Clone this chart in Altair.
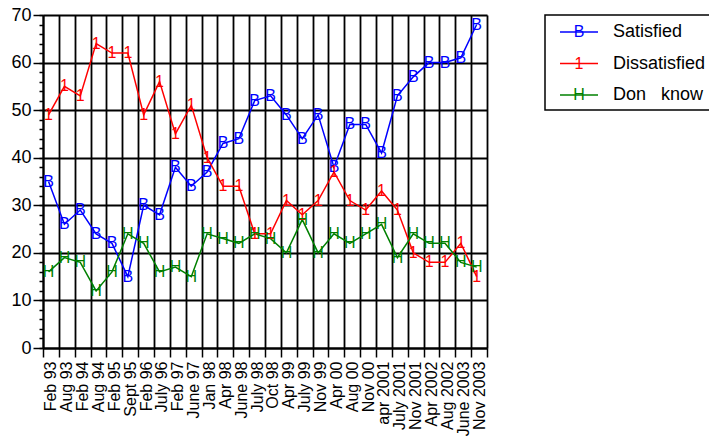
import altair as alt
import pandas as pd

categories = ["Feb 93", "Aug 93", "Feb 94", "Aug 94", "Feb 95", "Sept 95", "Feb 96",
              "July 96", "Feb 97", "June 97", "Jan 98", "Apr 98", "June 98", "July 98",
              "Oct 98", "Apr 99", "July 99", "Nov 99", "Apr 00", "Aug 00", "Nov 00",
              "apr 2001", "July 2001", "Nov 2001", "Apr 2002", "Aug 2002", "June 2003",
              "Nov 2003"]

satisfied = [35, 26, 29, 24, 22, 15, 30, 28, 38, 34, 37, 43, 44, 52, 53, 49, 44, 49,
             38, 47, 47, 41, 53, 57, 60, 60, 61, 68]
dissatisfied = [49, 55, 53, 64, 62, 62, 49, 56, 45, 51, 40, 34, 34, 24, 24, 31, 28, 31,
                37, 31, 29, 33, 29, 20, 18, 18, 22, 15]
dont_know = [16, 19, 18, 12, 16, 24, 22, 16, 17, 15, 24, 23, 22, 24, 23, 20, 27, 20,
             24, 22, 24, 26, 19, 24, 22, 22, 18, 17]

series_names = ["Satisfied", "Dissatisfied", "Don know"]
series_labels = ["Satisfied", "Dissatisfied", "Don\u00a0\u00a0\u00a0know"]
series_markers = ["B", "1", "H"]
series_colors = ["#0000ff", "#ff0000", "#008000"]
y_ticks = list(range(0, 71, 10))
y_minor = list(range(0, 71, 2))

rows = []
for name, marker, vals in zip(series_names, series_markers, [satisfied, dissatisfied, dont_know]):
    for c, v in zip(categories, vals):
        rows.append({"when": c, "series": name, "marker": marker, "value": v})
df = pd.DataFrame(rows)

leg = pd.DataFrame({"series": series_names, "label": series_labels, "marker": series_markers})

FONT = "Liberation Sans"
color = alt.Color("series:N", scale=alt.Scale(domain=series_names, range=series_colors), legend=None)

xenc = alt.X("when:N", sort=categories, bandPosition=0.35,
             scale=alt.Scale(type="band", paddingInner=0, paddingOuter=0),
             axis=alt.Axis(title=None, labelAngle=-90, labelFontSize=16, labelFont=FONT,
                           labelColor="black", tickBand="extent", tickSize=9, tickColor="black",
                           tickWidth=1.5, grid=True, gridColor="black", gridWidth=1.8,
                           gridOpacity=1, domainColor="black", domainWidth=2, labelPadding=4))

lines = alt.Chart(df).mark_line(strokeWidth=1.5).encode(
    x=xenc,
    y=alt.Y("value:Q", scale=alt.Scale(domain=[0, 70], nice=False),
            axis=alt.Axis(title=None, values=y_ticks, tickSize=10, labelFontSize=18,
                          labelFont=FONT, labelColor="black", labelPadding=2, grid=True,
                          gridColor="black", gridWidth=1.8, gridOpacity=1, domainColor="black",
                          domainWidth=2, tickColor="black", tickWidth=1.5, orient="left")),
    color=color,
    detail="series:N",
)

glyphs = alt.Chart(df).mark_text(fontSize=16, font=FONT, baseline="middle", align="center").encode(
    x=xenc,
    y=alt.Y("value:Q", scale=alt.Scale(domain=[0, 70], nice=False),
            axis=alt.Axis(title=None, values=y_minor, tickSize=4, labels=False, grid=False,
                          domain=False, tickColor="black", tickWidth=1.5, orient="left")),
    text="marker:N",
    color=color,
)

ly = alt.Y("series:N", scale=alt.Scale(type="point", domain=series_names, range=[17, 80], padding=0),
           axis=None)

box = alt.Chart(pd.DataFrame({"k": [0]})).mark_rect(fill="white", stroke="black", strokeWidth=1.5).encode(
    x=alt.value(502), x2=alt.value(720), y=alt.value(0), y2=alt.value(95))

leg_rule = alt.Chart(leg).mark_rule(strokeWidth=1.5).encode(
    x=alt.value(517), x2=alt.value(555), y=ly, color=color)
leg_glyph = alt.Chart(leg).mark_text(fontSize=16, font=FONT, baseline="middle").encode(
    x=alt.value(536), y=ly, text="marker:N", color=color)
leg_text = alt.Chart(leg).mark_text(fontSize=18, font=FONT, align="left", baseline="middle",
                                    color="black").encode(
    x=alt.value(570), y=ly, text="label:N")

chart = alt.layer(lines, glyphs, box, leg_rule, leg_glyph, leg_text).resolve_scale(
    y="independent"
).properties(
    width=444, height=333,
    autosize=alt.AutoSizeParams(type="none"),
    padding={"left": 35, "top": 7, "right": 222, "bottom": 90},
).configure_view(stroke="black", strokeWidth=2).configure(background="white")

chart.save("out.html", embed_options={"renderer": "svg", "actions": False})
